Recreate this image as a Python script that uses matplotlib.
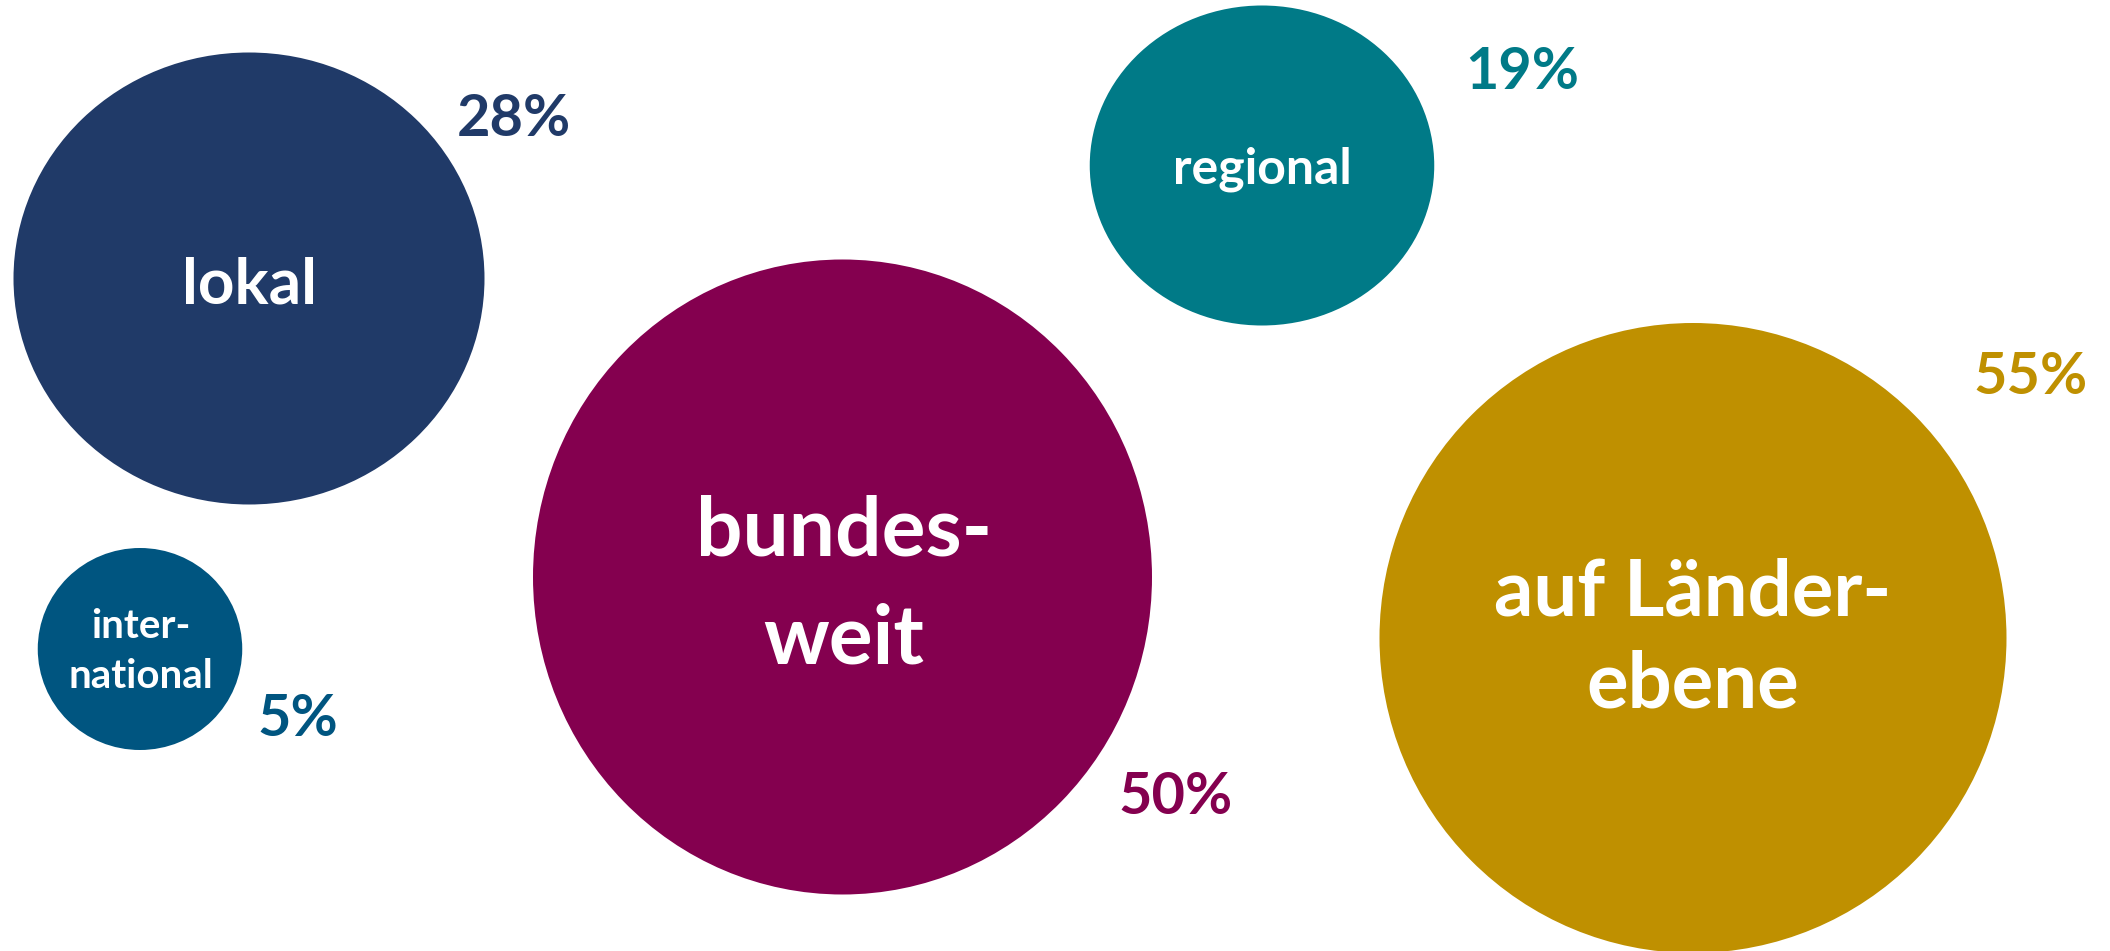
import matplotlib
matplotlib.use("Agg")
import matplotlib.pyplot as plt
from matplotlib.patches import Ellipse

# ---- data ----
categories = ["lokal", "regional", "bundes-\nweit", "auf Länder-\nebene", "inter-\nnational"]
values = [28, 19, 50, 55, 5]
colors = ["#203A68", "#007A87", "#84004F", "#BF9000", "#005580"]

# ---- layout (pixel space of a 2110x951 canvas) ----
W, H = 2110, 951
bubble_cx = [249, 1262, 842.5, 1693, 140]
bubble_cy = [278.5, 165.5, 577, 638, 649]
bubble_w = [471, 344.5, 619, 627, 204.5]
bubble_h = [452, 320, 635, 630, 202]
label_size = [46, 36, 59, 56, 29]
label_x = [249, 1262, 844, 1693, 141]
label_base = [303, 183, 555, 615, 638]
label_gap = [0, 0, 108, 93, 50]
pct_x = [514, 1522, 1176, 2031, 298]
pct_base = [136, 89, 814, 394, 736]
pct_size = 41.5

plt.rcParams['font.family'] = ['Lato', 'DejaVu Sans']

fig = plt.figure(figsize=(W / 100, H / 100), dpi=100)
ax = fig.add_axes([0, 0, 1, 1])
ax.set_xlim(0, W)
ax.set_ylim(H, 0)
ax.set_aspect('auto')
ax.axis('off')

for i, cat in enumerate(categories):
    ax.add_patch(Ellipse((bubble_cx[i], bubble_cy[i]), bubble_w[i], bubble_h[i],
                         facecolor=colors[i], edgecolor='none'))
    for j, line in enumerate(cat.split("\n")):
        ax.text(label_x[i], label_base[i] + j * label_gap[i], line,
                ha='center', va='baseline', color='white',
                fontsize=label_size[i], fontweight='bold')
    ax.text(pct_x[i], pct_base[i], f"{values[i]}%", ha='center', va='baseline',
            color=colors[i], fontsize=pct_size, fontweight='bold')

fig.savefig("out.png", dpi=100, facecolor='white')
